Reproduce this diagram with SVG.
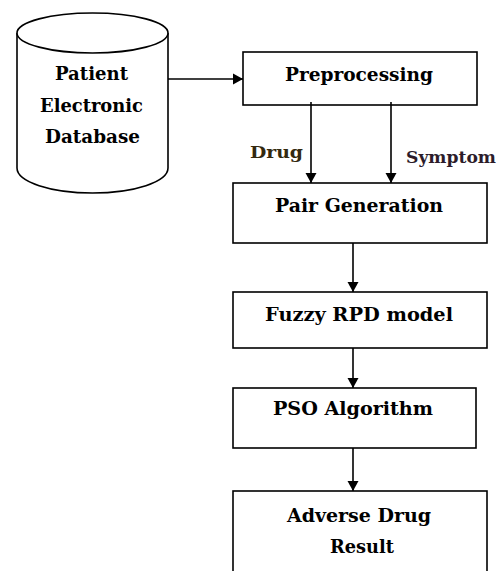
<svg xmlns="http://www.w3.org/2000/svg" width="504" height="571" viewBox="0 0 504 571">
<style>
.box{fill:#fff;stroke:#000;stroke-width:1.6}
.t{font-family:"DejaVu Serif","Liberation Serif",serif;font-weight:bold;font-size:18px;fill:#000}
.lbl{font-family:"DejaVu Serif","Liberation Serif",serif;font-weight:bold;font-size:17px}
.c{stroke:#000;stroke-width:1.6;fill:none;marker-end:url(#ah)}
</style>
<defs>
<marker id="ah" markerWidth="12" markerHeight="12" refX="10" refY="6" orient="auto" markerUnits="userSpaceOnUse">
<path d="M0,0.5 L10,6 L0,11.5 Z" fill="#000"/>
</marker>
</defs>
<rect width="504" height="571" fill="#fff"/>
<g id="database">
<path class="box" d="M17,33 L17,168 A75.5,25 0 0 0 168,168 L168,33"/>
<ellipse class="box" cx="92.5" cy="33" rx="75.5" ry="20"/>
<text class="t" x="55" y="80" textLength="73" lengthAdjust="spacingAndGlyphs">Patient</text>
<text class="t" x="40" y="112" textLength="103" lengthAdjust="spacingAndGlyphs">Electronic</text>
<text class="t" x="45" y="143" textLength="95" lengthAdjust="spacingAndGlyphs">Database</text>
</g>
<g id="preprocessing">
<rect class="box" x="243" y="52" width="234" height="53"/>
<text class="t" x="285" y="81" textLength="148" lengthAdjust="spacingAndGlyphs">Preprocessing</text>
</g>
<g id="pair-generation">
<rect class="box" x="233" y="183" width="254" height="60"/>
<text class="t" x="275" y="212" textLength="168" lengthAdjust="spacingAndGlyphs">Pair Generation</text>
</g>
<g id="fuzzy-rpd">
<rect class="box" x="233" y="292" width="254" height="56"/>
<text class="t" x="265" y="321" textLength="188" lengthAdjust="spacingAndGlyphs">Fuzzy RPD model</text>
</g>
<g id="pso">
<rect class="box" x="233" y="388" width="243" height="60"/>
<text class="t" x="273" y="415" textLength="160" lengthAdjust="spacingAndGlyphs">PSO Algorithm</text>
</g>
<g id="adverse">
<rect class="box" x="233" y="491" width="254" height="90"/>
<text class="t" x="287" y="522" textLength="144" lengthAdjust="spacingAndGlyphs">Adverse Drug</text>
<text class="t" x="330" y="553" textLength="64" lengthAdjust="spacingAndGlyphs">Result</text>
</g>
<g id="connectors">
<line class="c" x1="168" y1="79" x2="243" y2="79"/>
<line class="c" x1="311" y1="102" x2="311" y2="183"/>
<line class="c" x1="391" y1="102" x2="391" y2="183"/>
<line class="c" x1="353" y1="243" x2="353" y2="292"/>
<line class="c" x1="353" y1="348" x2="353" y2="388"/>
<line class="c" x1="353" y1="448" x2="353" y2="491"/>
<text class="lbl" x="250" y="158" textLength="53" lengthAdjust="spacingAndGlyphs" fill="#33290f">Drug</text>
<text class="lbl" x="406" y="163" textLength="90" lengthAdjust="spacingAndGlyphs" fill="#2c1c2a">Symptom</text>
</g>
</svg>
